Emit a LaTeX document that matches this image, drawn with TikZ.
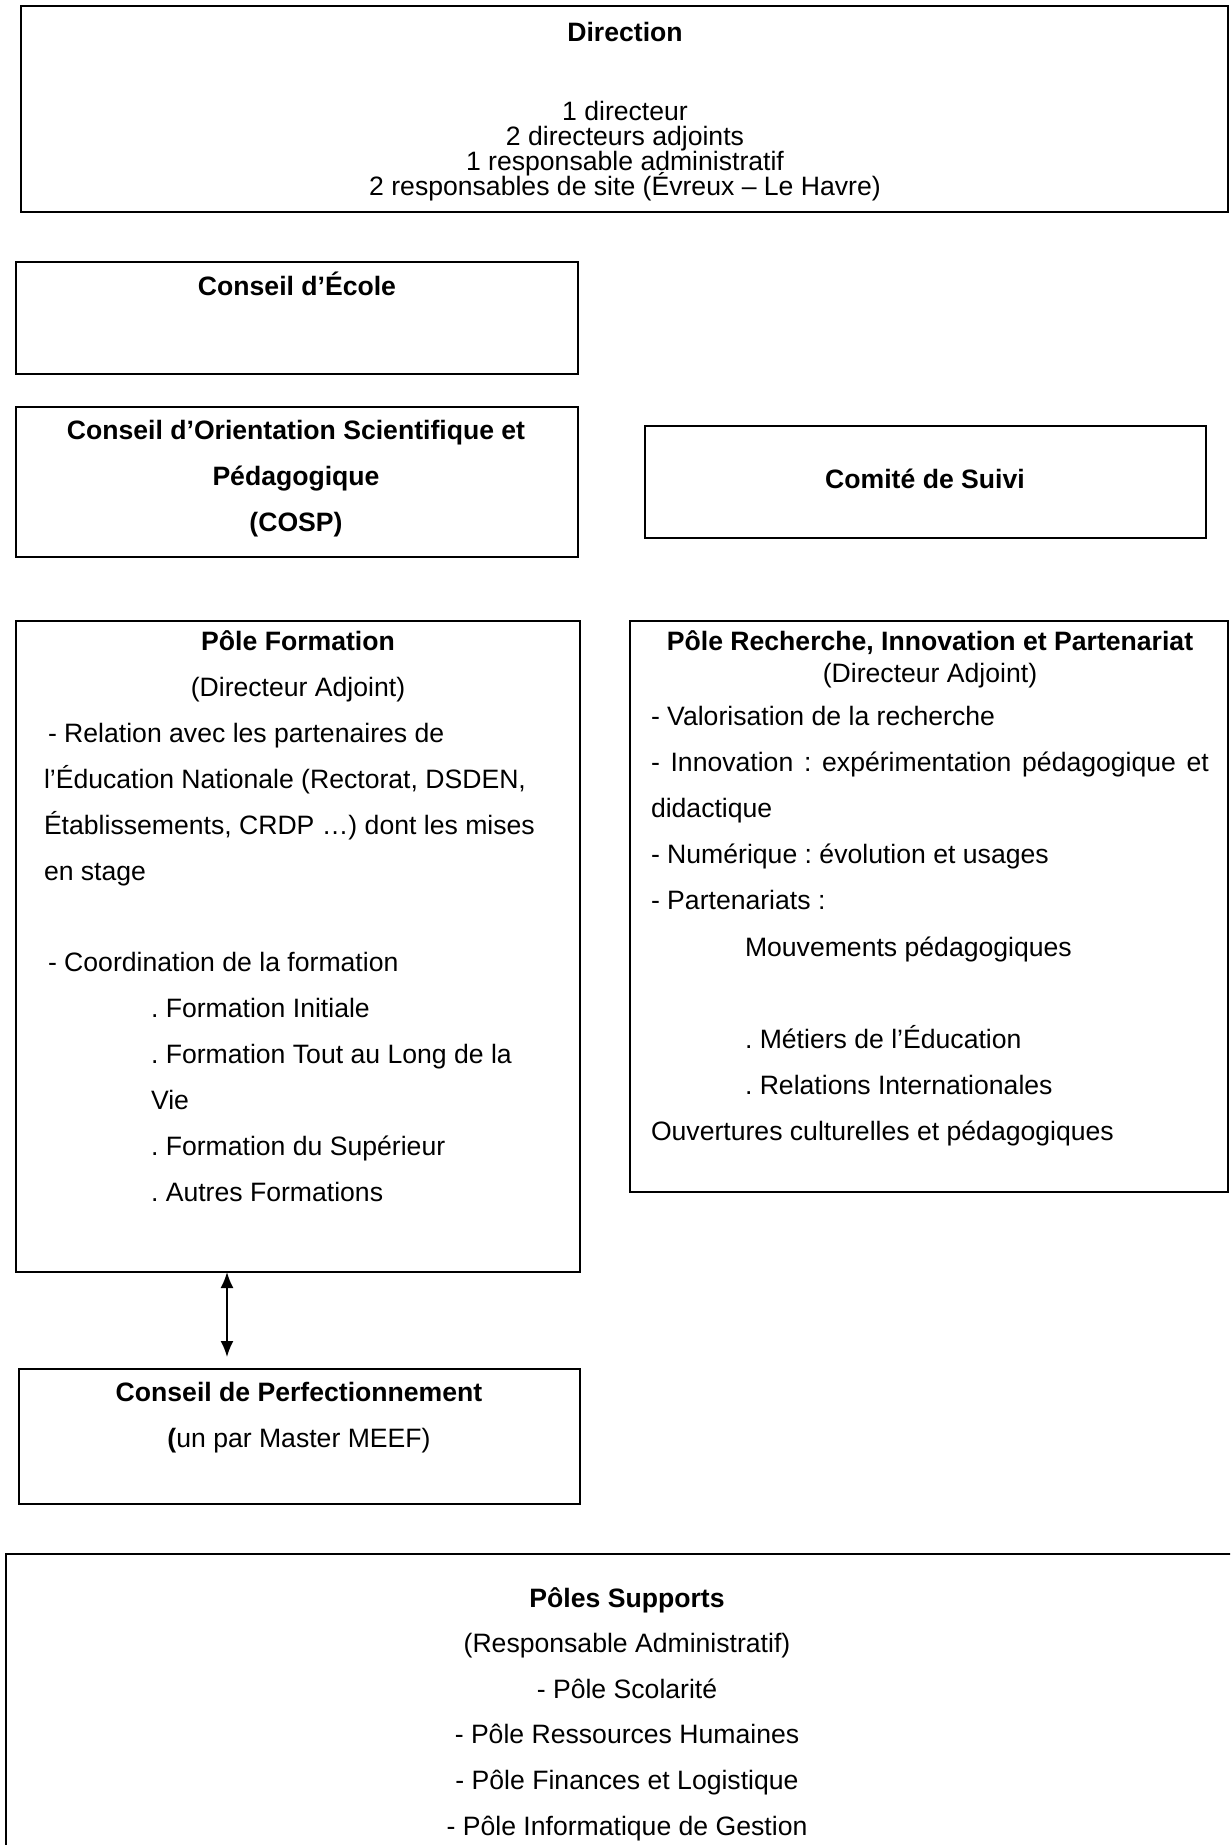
\documentclass[tikz,border=0pt]{standalone}
\usepackage{fontspec}
\setmainfont{Liberation Sans}
\usetikzlibrary{arrows.meta}
\frenchspacing
\begin{document}
\begin{tikzpicture}[x=0.5pt,y=-0.5pt,
  every node/.style={font=\fontsize{13.3}{15}\selectfont, inner sep=0pt, outer sep=0pt},
  boxnode/.style={draw=black, line width=0.8pt, rectangle, anchor=north west},
  ctext/.style={anchor=mid},
  ltext/.style={anchor=mid west},
  btext/.style={anchor=mid, font=\fontsize{13.3}{15}\selectfont\bfseries},
  arr/.style={{Latex[length=8pt,width=6.5pt]}-{Latex[length=8pt,width=6.5pt]}, line width=0.9pt}
]
\clip (0,0) rectangle (1230,1845);
% boxes
\node[boxnode, minimum width=603.5pt, minimum height=103pt] (dir) at (21,6) {};
\node[boxnode, minimum width=281pt, minimum height=56pt] (ce) at (16,262) {};
\node[boxnode, minimum width=281pt, minimum height=75pt] (cosp) at (16,407) {};
\node[boxnode, minimum width=280.5pt, minimum height=56pt] (cs) at (645,426) {};
\node[boxnode, minimum width=282pt, minimum height=325.5pt] (pf) at (16,621) {};
\node[boxnode, minimum width=299pt, minimum height=285.5pt] (pr) at (630,621) {};
\node[boxnode, minimum width=280.5pt, minimum height=67.5pt] (cp) at (19,1369) {};
\node[boxnode, minimum width=619.5pt, minimum height=158pt] (ps) at (6,1554) {};

% Direction
\node[btext] (t1) at (625,36) {Direction};
\node[ctext] (t2) at (625,115) {1 directeur};
\node[ctext] (t3) at (625,140) {2 directeurs adjoints};
\node[ctext] (t4) at (625,165) {1 responsable administratif};
\node[ctext] (t5) at (625,190) {2 responsables de site (Évreux – Le Havre)};

% Conseil d'Ecole
\node[btext] (t6) at (297,290) {Conseil d’École};

% COSP
\node[btext] (t7) at (296,434) {Conseil d’Orientation Scientifique et};
\node[btext] (t8) at (296,480) {Pédagogique};
\node[btext] (t9) at (296,526) {(COSP)};

% Comite de Suivi
\node[btext] (t10) at (925,483) {Comité de Suivi};

% Pole Formation
\node[btext] (f1) at (298,645) {Pôle Formation};
\node[ctext] (f2) at (298,691) {(Directeur Adjoint)};
\node[ltext] (f3) at (48,737) {- Relation avec les partenaires de};
\node[ltext] (f4) at (44,783) {l’Éducation Nationale (Rectorat, DSDEN,};
\node[ltext] (f5) at (44,829) {Établissements, CRDP …) dont les mises};
\node[ltext] (f6) at (44,875) {en stage};
\node[ltext] (f7) at (48,966) {- Coordination de la formation};
\node[ltext] (f8) at (151,1012) {. Formation Initiale};
\node[ltext] (f9) at (151,1058) {. Formation Tout au Long de la};
\node[ltext] (f10) at (151,1104) {Vie};
\node[ltext] (f11) at (151,1150) {. Formation du Supérieur};
\node[ltext] (f12) at (151,1196) {. Autres Formations};

% Pole Recherche
\node[btext] (r1) at (930,645) {Pôle Recherche, Innovation et Partenariat};
\node[ctext] (r2) at (930,677) {(Directeur Adjoint)};
\node[ltext] (r3) at (651,720) {- Valorisation de la recherche};
\node[ltext] (r4) at (651,766) {\makebox[279pt][s]{- Innovation : expérimentation pédagogique et}};
\node[ltext] (r5) at (651,812) {didactique};
\node[ltext] (r6) at (651,858) {- Numérique : évolution et usages};
\node[ltext] (r7) at (651,904) {- Partenariats :};
\node[ltext] (r8) at (745,951) {Mouvements pédagogiques};
\node[ltext] (r9) at (745,1043) {. Métiers de l’Éducation};
\node[ltext] (r10) at (745,1089) {. Relations Internationales};
\node[ltext] (r11) at (651,1135) {Ouvertures culturelles et pédagogiques};

% Conseil de Perfectionnement
\node[btext] (p1) at (299,1396) {Conseil de Perfectionnement};
\node[ctext] (p2) at (299,1442) {\textbf{(}un par Master MEEF)};

% Poles Supports
\node[btext] (s1) at (627,1602) {Pôles Supports};
\node[ctext] (s2) at (627,1647) {(Responsable Administratif)};
\node[ctext] (s3) at (627,1693) {- Pôle Scolarité};
\node[ctext] (s4) at (627,1738) {- Pôle Ressources Humaines};
\node[ctext] (s5) at (627,1784) {- Pôle Finances et Logistique};
\node[ctext] (s6) at (627,1830) {- Pôle Informatique de Gestion};

% arrow
\coordinate (ax) at (227,0);
\draw[arr, shorten >=6pt] (pf.south -| ax) -- (cp.north -| ax);
\end{tikzpicture}
\end{document}
